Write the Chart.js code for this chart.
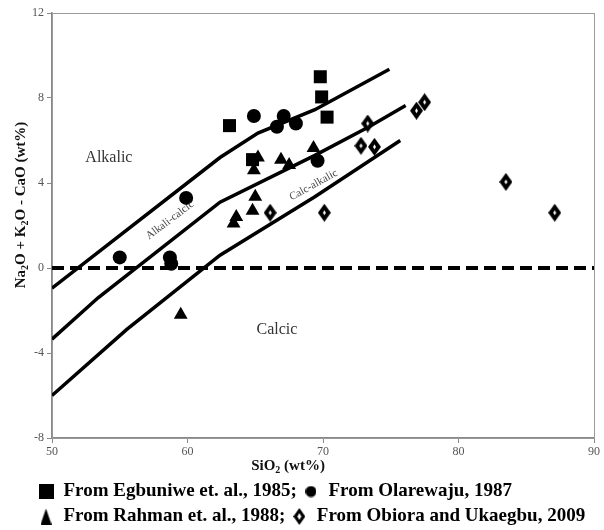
<!DOCTYPE html>
<html>
<head>
<meta charset="utf-8">
<title>Na2O + K2O - CaO vs SiO2</title>
<script src="https://cdn.jsdelivr.net/npm/chart.js@4.4.1/dist/chart.umd.min.js"></script>
<style>
  html, body { margin: 0; padding: 0; background: #fff; }
  #mali { display: block; }
</style>
</head>
<body>
<canvas id="mali" width="604" height="530"></canvas>
<script>
// ==================================
// Data
// ==================================
const sio2Ticks = [50, 60, 70, 80, 90];
const maliTicks = [-8, -4, 0, 4, 8, 12];

// Egbuniwe et al., 1985
const egbuniweSiO2 = [63.1, 64.8, 69.8, 69.9, 70.3];
const egbuniweMali = [6.7, 5.1, 9.0, 8.05, 7.1];

// Olarewaju, 1987
const olarewajuSiO2 = [64.9, 67.1, 66.6, 68.0, 69.6, 59.9, 55.0, 58.7, 58.8];
const olarewajuMali = [7.15, 7.15, 6.65, 6.8, 5.05, 3.3, 0.5, 0.5, 0.2];

// Rahman et al., 1988
const rahmanSiO2 = [65.2, 64.9, 66.9, 67.5, 69.3, 65.0, 64.8, 63.6, 63.4, 59.5];
const rahmanMali = [5.2, 4.6, 5.1, 4.85, 5.65, 3.35, 2.7, 2.4, 2.1, -2.2];

// Obiora and Ukaegbu, 2009
const obioraSiO2 = [66.1, 70.1, 73.3, 72.8, 73.8, 76.9, 77.5, 83.5, 87.1];
const obioraMali = [2.6, 2.6, 6.8, 5.75, 5.7, 7.4, 7.8, 4.05, 2.6];

// field boundaries
const alkalicLineSiO2 = [50, 62.4, 65.2, 69.4, 74.9];
const alkalicLineMali = [-0.95, 5.2, 6.35, 7.45, 9.35];
const calcAlkalicLineSiO2 = [50, 53.4, 62.4, 69.4, 73.4, 76.1];
const calcAlkalicLineMali = [-3.35, -1.4, 3.1, 5.3, 6.65, 7.65];
const calcicLineSiO2 = [50, 55.5, 62.4, 69.4, 75.7];
const calcicLineMali = [-6.0, -2.9, 0.6, 3.35, 6.0];
const zeroLineSiO2 = [50, 90];
const zeroLineMali = [0, 0];

const seriesLabels = [
  "From Egbuniwe et. al., 1985;",
  "From Olarewaju, 1987",
  "From Rahman et. al., 1988;",
  "From Obiora and Ukaegbu, 2009",
];

// ==================================
// Helpers
// ==================================
const serif = '"Liberation Serif", "Times New Roman", serif';
const pts = (xs, ys) => xs.map((x, i) => ({ x, y: ys[i] }));

function icon(w, h, draw) {
  const c = document.createElement("canvas");
  c.width = w;
  c.height = h;
  const g = c.getContext("2d");
  g.fillStyle = "#000";
  draw(g, w, h);
  return c;
}

function diamond(g, cx, cy, rx, ry) {
  g.beginPath();
  g.moveTo(cx, cy - ry);
  g.lineTo(cx + rx, cy);
  g.lineTo(cx, cy + ry);
  g.lineTo(cx - rx, cy);
  g.closePath();
  g.fill();
}

function diamondIcon(w, h, hw, hh) {
  return icon(w, h, (g) => {
    diamond(g, w / 2, h / 2, w / 2, h / 2);
    g.fillStyle = "#fff";
    diamond(g, w / 2, h / 2, hw / 2, hh / 2);
  });
}

const plotDiamond = diamondIcon(13, 18, 3, 5);

const legendIcons = [
  icon(15, 15, (g, w, h) => g.fillRect(0, 0, w, h)),
  icon(11, 12, (g) => {
    g.beginPath();
    g.arc(5.5, 6, 5.5, 0, Math.PI * 2);
    g.fill();
  }),
  icon(11, 16, (g, w, h) => {
    g.beginPath();
    g.moveTo(w / 2, 0);
    g.lineTo(w, h);
    g.lineTo(0, h);
    g.closePath();
    g.fill();
  }),
  diamondIcon(12, 17, 4, 7),
];

// text with subscripts, centred on (cx, cy)
function drawRich(ctx, parts, cx, cy, size, weight) {
  const sub = Math.round(size * 0.66);
  const fontFor = (s) => `${weight} ${s ? sub : size}px ${serif}`;
  let total = 0;
  parts.forEach(([t, s]) => {
    ctx.font = fontFor(s);
    total += ctx.measureText(t).width;
  });
  let x = cx - total / 2;
  ctx.textAlign = "left";
  ctx.textBaseline = "middle";
  parts.forEach(([t, s]) => {
    ctx.font = fontFor(s);
    ctx.fillText(t, x, s ? cy + size * 0.3 : cy);
    x += ctx.measureText(t).width;
  });
}

// ==================================
// Frame, field names, axis titles
// ==================================
const frame = {
  id: "frame",
  beforeDatasetsDraw(chart) {
    const { ctx, chartArea: a } = chart;
    ctx.save();
    ctx.strokeStyle = "#9a9a9a";
    ctx.lineWidth = 1;
    ctx.strokeRect(a.left + 0.5, a.top + 0.5, a.right - a.left, a.bottom - a.top);
    ctx.restore();
  },
  afterDraw(chart) {
    const { ctx, scales } = chart;
    const at = (x, y) => [scales.x.getPixelForValue(x), scales.y.getPixelForValue(y)];

    ctx.save();
    ctx.textAlign = "center";
    ctx.textBaseline = "middle";

    ctx.fillStyle = "#333";
    ctx.font = `16px ${serif}`;
    ctx.fillText("Alkalic", ...at(54.2, 5.2));
    ctx.fillText("Calcic", ...at(66.6, -2.9));

    ctx.fillStyle = "#444";
    ctx.font = `11px ${serif}`;
    const band = (text, x, y, deg) => {
      const [px, py] = at(x, y);
      ctx.save();
      ctx.translate(px, py);
      ctx.rotate((deg * Math.PI) / 180);
      ctx.fillText(text, 0, 0);
      ctx.restore();
    };
    band("Alkali-calcic", 58.7, 2.25, -37);
    band("Calc-alkalic", 69.3, 3.9, -29);

    // axis titles
    ctx.fillStyle = "#111";
    drawRich(ctx, [["SiO"], ["2", true], [" (wt%)"]], 288, 466, 15, "bold");
    ctx.translate(21, 205);
    ctx.rotate(-Math.PI / 2);
    drawRich(
      ctx,
      [["Na"], ["2", true], ["O + K"], ["2", true], ["O - CaO (wt%)"]],
      0, 0, 15, "bold"
    );
    ctx.restore();
  },
};

// legend rows start further in and a little lower
const legendNudge = {
  id: "legendNudge",
  afterLayout(chart) {
    const lg = chart.legend;
    if (!lg) return;
    lg.left += 32;
    lg.top += 6;
    lg.bottom += 6;
  },
};

// ==================================
// Chart
// ==================================
const line = (data, extra) => ({
  data,
  showLine: true,
  borderColor: "#000",
  borderWidth: 3.5,
  pointRadius: 0,
  tension: 0,
  ...extra,
});

const axisGrid = {
  display: true,
  drawOnChartArea: false,
  drawTicks: true,
  tickLength: 5,
  color: "#888",
};

new Chart(document.getElementById("mali"), {
  type: "scatter",
  data: {
    datasets: [
      {
        label: seriesLabels[0],
        data: pts(egbuniweSiO2, egbuniweMali),
        pointStyle: "rect",
        pointRadius: 9.2,
        backgroundColor: "#000",
        borderColor: "#000",
        borderWidth: 0,
      },
      {
        label: seriesLabels[1],
        data: pts(olarewajuSiO2, olarewajuMali),
        pointStyle: "circle",
        pointRadius: 7,
        backgroundColor: "#000",
        borderColor: "#000",
        borderWidth: 0,
      },
      {
        label: seriesLabels[2],
        data: pts(rahmanSiO2, rahmanMali),
        pointStyle: "triangle",
        pointRadius: 8,
        backgroundColor: "#000",
        borderColor: "#000",
        borderWidth: 0,
      },
      {
        label: seriesLabels[3],
        data: pts(obioraSiO2, obioraMali),
        pointStyle: plotDiamond,
        pointRadius: 9,
        backgroundColor: "#000",
        borderColor: "#000",
      },
      line(pts(alkalicLineSiO2, alkalicLineMali)),
      line(pts(calcAlkalicLineSiO2, calcAlkalicLineMali)),
      line(pts(calcicLineSiO2, calcicLineMali)),
      line(pts(zeroLineSiO2, zeroLineMali), {
        borderWidth: 4,
        borderDash: [12, 6],
        borderCapStyle: "butt",
      }),
    ],
  },
  options: {
    responsive: false,
    animation: false,
    events: [],
    layout: { padding: { top: 13, right: 9, left: 0, bottom: 0 } },
    scales: {
      x: {
        type: "linear",
        min: sio2Ticks[0],
        max: sio2Ticks[sio2Ticks.length - 1],
        afterBuildTicks: (s) => (s.ticks = sio2Ticks.map((v) => ({ value: v }))),
        afterFit: (s) => (s.height = 32),
        border: { display: true, color: "#888", width: 1.5 },
        grid: axisGrid,
        ticks: { color: "#555", padding: 2, font: { family: serif, size: 12 } },
      },
      y: {
        type: "linear",
        min: maliTicks[0],
        max: maliTicks[maliTicks.length - 1],
        afterBuildTicks: (s) => (s.ticks = maliTicks.map((v) => ({ value: v }))),
        afterFit: (s) => (s.width = 52),
        border: { display: true, color: "#888", width: 1.5 },
        grid: axisGrid,
        ticks: { color: "#555", padding: 3, font: { family: serif, size: 12 } },
      },
    },
    plugins: {
      tooltip: { enabled: false },
      legend: {
        position: "bottom",
        align: "start",
        labels: {
          usePointStyle: true,
          boxWidth: 16,
          boxHeight: 16,
          padding: 6,
          color: "#000",
          font: { family: serif, size: 19, weight: "bold" },
          filter: (item) => item.datasetIndex < 4,
          generateLabels(chart) {
            return Chart.defaults.plugins.legend.labels
              .generateLabels(chart)
              .map((item) => ({ ...item, pointStyle: legendIcons[item.datasetIndex] || item.pointStyle }));
          },
        },
      },
    },
  },
  plugins: [frame, legendNudge],
});
</script>
</body>
</html>
